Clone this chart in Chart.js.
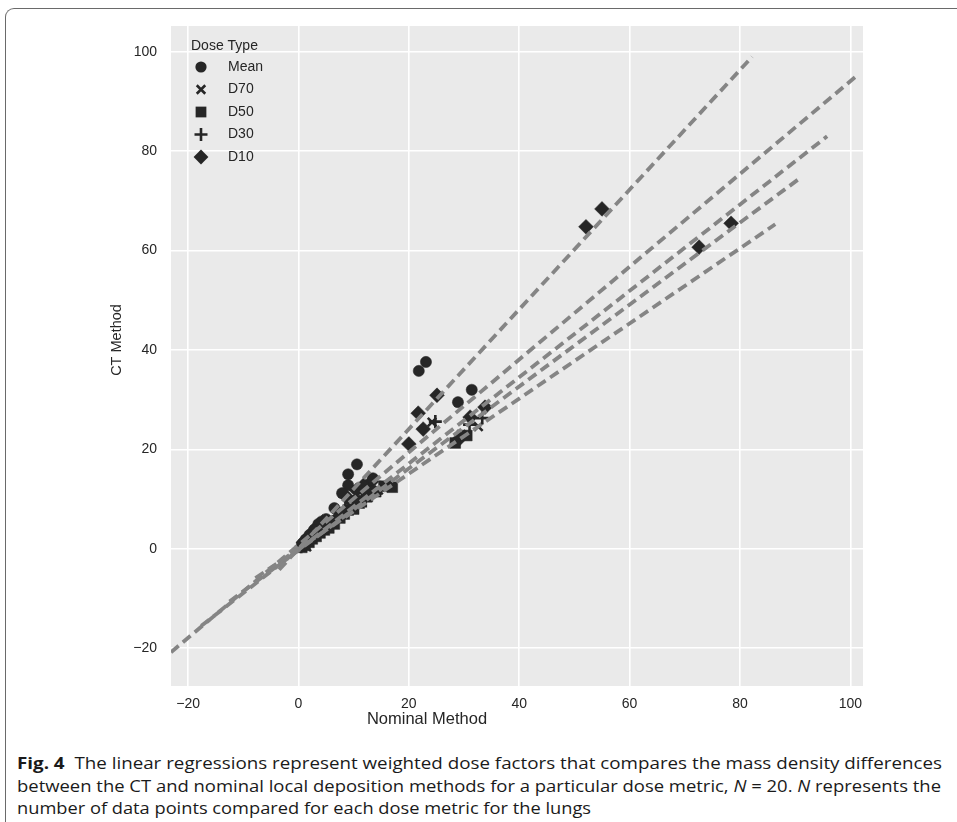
<!DOCTYPE html>
<html>
<head>
<meta charset="utf-8">
<script src="https://cdn.jsdelivr.net/npm/chart.js@4.4.1/dist/chart.umd.min.js"></script>
<style>
  html, body { margin: 0; padding: 0; background: #ffffff; }
  body { width: 957px; height: 822px; position: relative; overflow: hidden; }
  #frame { position: absolute; left: 5px; top: 8px; width: 960px; height: 820px;
           border-top: 1px solid #6a6a6a; border-left: 1px solid #6a6a6a; border-top-left-radius: 9px; box-sizing: border-box; }
  #wrap { position: absolute; left: 0; top: 0; width: 957px; height: 740px; }
  #caption { position: absolute; left: 17px; top: 752px; font-family: "Open Sans", "Noto Sans", sans-serif;
             font-size: 15.5px; color: #1a1a1a; line-height: 22.6px; white-space: nowrap; }
  #caption .ln { display: block; height: 22.6px; }
  #caption .ln span { display: inline-block; transform-origin: 0 50%; }
</style>
</head>
<body>
<div id="frame"></div>
<div id="wrap"><canvas id="c" width="957" height="740"></canvas></div>
<div id="caption">
  <div class="ln"><span data-w="925"><b>Fig. 4</b>&nbsp; The linear regressions represent weighted dose factors that compares the mass density differences</span></div>
  <div class="ln"><span data-w="924">between the CT and nominal local deposition methods for a particular dose metric, <i>N</i>&nbsp;=&nbsp;20. <i>N</i> represents the</span></div>
  <div class="ln"><span data-w="574">number of data points compared for each dose metric for the lungs</span></div>
</div>
<script>
// ---------------- DATA ----------------
const doseTypes = ["Mean", "D70", "D50", "D30", "D10"];
const markerStyles = ["circle", "crossRot", "rect", "cross", "rectRot"];

const meanX = [23.1, 21.8, 31.4, 28.9, 10.6, 9.0, 9.0, 7.9, 13.5, 11.8, 6.5, 5.0, 4.2, 3.6, 2.8, 2.0, 1.3, 0.8, 12.4, 6.0];
const meanY = [37.6, 35.8, 32.0, 29.5, 17.0, 15.0, 12.8, 11.2, 14.2, 12.5, 8.2, 6.0, 5.5, 5.0, 3.8, 2.8, 1.9, 1.2, 10.8, 5.2];

const d70X = [24.2, 32.6, 29.5, 12.0, 10.5, 9.5, 8.0, 7.0, 6.0, 5.2, 4.5, 3.8, 3.0, 2.4, 1.8, 1.2, 0.7, 13.5, 14.5, 1.5];
const d70Y = [25.5, 24.6, 23.0, 10.5, 9.8, 8.5, 7.2, 6.5, 5.0, 4.3, 3.9, 3.5, 2.6, 2.0, 1.5, 1.0, 0.6, 11.3, 11.8, 0.4];

const d50X = [28.4, 30.5, 17.0, 15.5, 14.0, 12.5, 11.0, 9.0, 7.5, 6.5, 5.5, 4.7, 3.9, 3.2, 2.5, 1.9, 1.2, 0.6, 10.0, 8.3];
const d50Y = [21.3, 22.8, 12.4, 12.6, 11.5, 10.6, 9.2, 7.8, 6.2, 5.0, 4.2, 3.8, 3.2, 2.5, 2.0, 1.3, 0.7, 0.3, 8.0, 7.0];

const d30X = [33.3, 31.0, 24.8, 16.5, 14.8, 13.0, 11.5, 10.0, 8.5, 7.2, 6.2, 5.3, 4.5, 3.7, 3.0, 2.3, 1.6, 1.0, 0.5, 12.2];
const d30Y = [26.3, 25.0, 25.6, 13.0, 12.4, 11.5, 10.5, 9.5, 8.2, 6.5, 5.5, 4.6, 4.0, 3.4, 2.8, 2.2, 1.5, 0.9, 0.4, 9.6];

const d10X = [52.1, 55.0, 72.6, 78.4, 25.1, 21.7, 22.6, 20.0, 31.1, 29.2, 33.8, 13.2, 11.8, 10.5, 8.8, 4.4, 3.5, 2.6, 1.8, 0.9];
const d10Y = [64.8, 68.4, 60.7, 65.5, 30.9, 27.3, 24.1, 21.1, 26.5, 22.2, 28.5, 13.5, 12.8, 11.8, 10.4, 5.4, 4.6, 3.4, 2.4, 1.3];

// regression line end points
const fitX0 = [-3.5, -7.8, -12.5, -17.6, -23.1];
const fitY0 = [-4.2, -5.9, -10.6, -15.5, -20.8];
const fitX1 = [82.2, 86.4, 90.9, 95.8, 101.4];
const fitY1 = [99.0, 65.3, 74.6, 83.0, 95.4];

const xTicks = [-20, 0, 20, 40, 60, 80, 100];
const yTicks = [-20, 0, 20, 40, 60, 80, 100];
const xRange = [-23.1, 102.3];
const yRange = [-27.6, 105.2];

const xTitle = "Nominal Method";
const yTitle = "CT Method";
const legendTitle = "Dose Type";

// ---------------- BUILD ----------------
const seriesX = [meanX, d70X, d50X, d30X, d10X];
const seriesY = [meanY, d70Y, d50Y, d30Y, d10Y];
const markerRadius = { circle: 5.6, crossRot: 6, rect: 7.6, cross: 6.5, rectRot: 7.4 };
const markerColor = "#262626";

const datasets = [];
for (let i = 0; i < doseTypes.length; i++) {
  const st = markerStyles[i];
  datasets.push({
    label: doseTypes[i],
    data: seriesX[i].map((x, k) => ({ x: x, y: seriesY[i][k] })),
    pointStyle: st,
    pointRadius: markerRadius[st],
    pointHoverRadius: markerRadius[st],
    backgroundColor: markerColor,
    borderColor: markerColor,
    pointBorderWidth: (st === "cross" || st === "crossRot") ? 2.6 : 0.5,
    showLine: false,
    order: 2
  });
}
for (let i = 0; i < fitX0.length; i++) {
  datasets.push({
    label: "fit" + i,
    data: [{ x: fitX0[i], y: fitY0[i] }, { x: fitX1[i], y: fitY1[i] }],
    showLine: true,
    borderColor: "#858585",
    borderWidth: 3.8,
    borderDash: [10, 5.5],
    borderCapStyle: "butt",
    pointRadius: 0,
    pointHoverRadius: 0,
    fill: false,
    order: 1
  });
}

const fmt = v => (v < 0 ? "\u2212" + Math.abs(v) : String(v));

function drawMarker(ctx, style, x, y, r) {
  ctx.save();
  ctx.fillStyle = markerColor; ctx.strokeStyle = markerColor;
  ctx.beginPath();
  if (style === "circle") { ctx.arc(x, y, r, 0, Math.PI * 2); ctx.fill(); }
  else if (style === "rect") { const h = r * Math.SQRT1_2; ctx.fillRect(x - h, y - h, 2 * h, 2 * h); }
  else if (style === "rectRot") { ctx.moveTo(x, y - r); ctx.lineTo(x + r, y); ctx.lineTo(x, y + r); ctx.lineTo(x - r, y); ctx.closePath(); ctx.fill(); }
  else if (style === "cross") { ctx.lineWidth = 2.6; ctx.moveTo(x - r, y); ctx.lineTo(x + r, y); ctx.moveTo(x, y - r); ctx.lineTo(x, y + r); ctx.stroke(); }
  else if (style === "crossRot") { ctx.lineWidth = 2.6; const h = r * Math.SQRT1_2; ctx.moveTo(x - h, y - h); ctx.lineTo(x + h, y + h); ctx.moveTo(x + h, y - h); ctx.lineTo(x - h, y + h); ctx.stroke(); }
  ctx.restore();
}

const decor = {
  id: "decor",
  beforeDraw(chart) {
    const { ctx, chartArea: a } = chart;
    ctx.save();
    ctx.fillStyle = "#eaeaea";
    ctx.fillRect(a.left, a.top, a.right - a.left, a.bottom - a.top);
    ctx.restore();
  },
  afterDraw(chart) {
    const ctx = chart.ctx;
    ctx.save();
    ctx.fillStyle = "#262626";
    ctx.textAlign = "center"; ctx.textBaseline = "middle";
    ctx.font = "16.5px 'Liberation Sans', Arial, sans-serif";
    ctx.fillText(xTitle, 427, 719);
    ctx.save();
    ctx.font = "14.5px 'Liberation Sans', Arial, sans-serif";
    ctx.translate(117, 340); ctx.rotate(-Math.PI / 2);
    ctx.fillText(yTitle, 0, 0);
    ctx.restore();
    // legend
    ctx.font = "14px 'Liberation Sans', Arial, sans-serif";
    ctx.textAlign = "left";
    ctx.fillStyle = "#262626";
    ctx.fillText(legendTitle, 191, 46);
    const ys = [67, 89.5, 112, 134.5, 157];
    for (let i = 0; i < doseTypes.length; i++) {
      const st = markerStyles[i];
      drawMarker(ctx, st, 201, ys[i], markerRadius[st]);
      ctx.fillStyle = "#262626";
      ctx.fillText(doseTypes[i], 228, ys[i]);
    }
    ctx.restore();
  }
};

new Chart(document.getElementById("c"), {
  type: "scatter",
  data: { datasets },
  options: {
    responsive: false,
    animation: false,
    devicePixelRatio: 1,
    layout: { padding: { left: 0, top: 26, right: 94, bottom: 0 } },
    plugins: { legend: { display: false }, tooltip: { enabled: false } },
    scales: {
      x: {
        type: "linear", min: xRange[0], max: xRange[1],
        afterBuildTicks: s => { s.ticks = xTicks.map(v => ({ value: v })); },
        afterFit: s => { s.height = 54; },
        grid: { color: "#ffffff", lineWidth: 1.6, drawTicks: false },
        border: { display: false },
        ticks: { callback: v => fmt(v), color: "#262626", padding: 10, maxRotation: 0,
                 font: { family: "'Liberation Sans', Arial, sans-serif", size: 14 } }
      },
      y: {
        type: "linear", min: yRange[0], max: yRange[1],
        afterBuildTicks: s => { s.ticks = yTicks.map(v => ({ value: v })); },
        afterFit: s => { s.width = 171; },
        grid: { color: "#ffffff", lineWidth: 1.6, drawTicks: false },
        border: { display: false },
        ticks: { callback: v => fmt(v), color: "#262626", padding: 14,
                 font: { family: "'Liberation Sans', Arial, sans-serif", size: 14 } }
      }
    }
  },
  plugins: [decor]
});

// fit caption lines to the reference widths
document.querySelectorAll("#caption .ln span").forEach(sp => {
  const w = sp.getBoundingClientRect().width;
  const target = parseFloat(sp.dataset.w);
  if (w > 0) sp.style.transform = "scaleX(" + (target / w) + ")";
});
</script>
</body>
</html>
